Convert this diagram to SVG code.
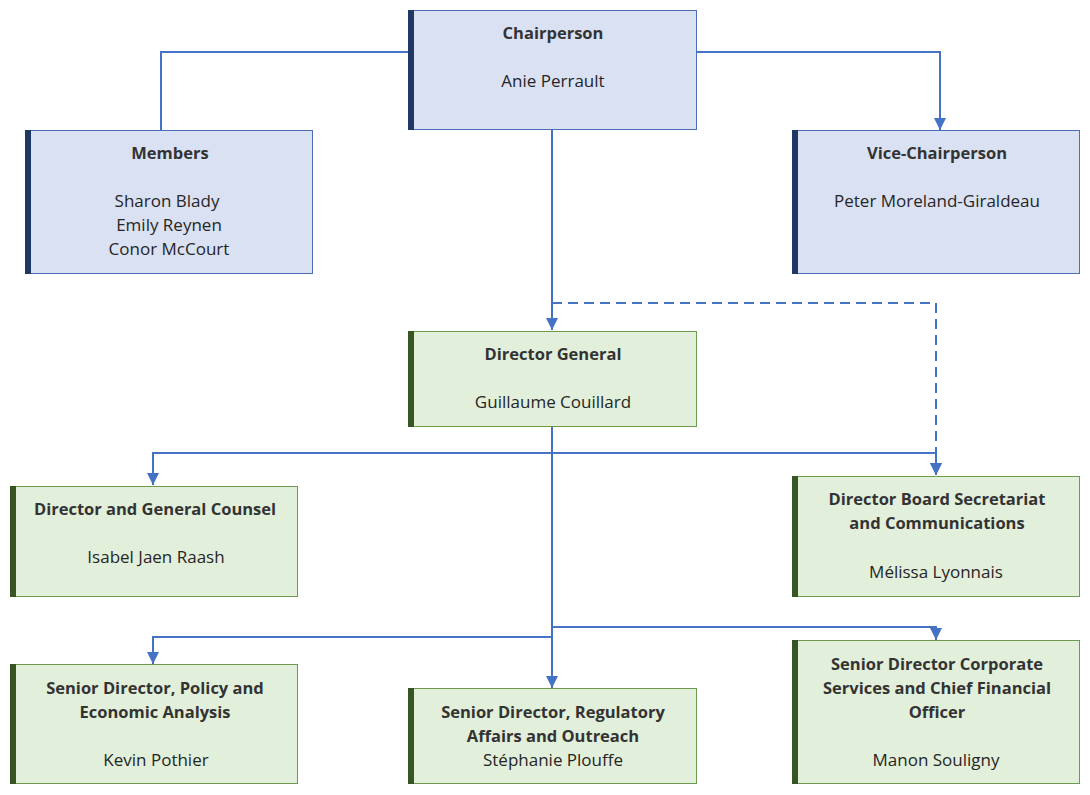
<svg xmlns="http://www.w3.org/2000/svg" width="1090" height="795" viewBox="0 0 1090 795">
<style>
text{font-family:"Open Sans","Liberation Sans",sans-serif;font-size:17px;fill:#262626;text-anchor:middle;dominant-baseline:central}
.t{font-weight:bold;fill:#333;font-size:16.5px}
.b rect.box{fill:#dae1f3;stroke:#4a6fb8;stroke-width:1}
.b rect.bar{fill:#1f3864}
.g rect.box{fill:#e2efda;stroke:#6e9a50;stroke-width:1}
.g rect.bar{fill:#375623}
.c{fill:none;stroke:#4472c4;stroke-width:2}
.d{stroke-dasharray:10 6}
</style>
<defs>
<marker id="ah" viewBox="0 0 12 12" refX="12" refY="6" markerWidth="12" markerHeight="12" markerUnits="userSpaceOnUse" orient="auto">
<path d="M0,0 L12,6 L0,12 Z" fill="#4472c4"/>
</marker>
</defs>
<g id="connectors">
<path class="c" d="M408,52 H161 V130"/>
<path class="c" d="M697,52 H940 V130" marker-end="url(#ah)"/>
<path class="c" d="M552,129 V330" marker-end="url(#ah)"/>
<path class="c d" d="M552,303 H936 V475" marker-end="url(#ah)"/>
<path class="c" d="M552,426 V688" marker-end="url(#ah)"/>
<path class="c" d="M936,453 H153 V485" marker-end="url(#ah)"/>
<path class="c" d="M552,453 H936 V475" marker-end="url(#ah)"/>
<path class="c" d="M552,637 H153 V664" marker-end="url(#ah)"/>
<path class="c" d="M552,627 H936 V640" marker-end="url(#ah)"/>
</g>
<g id="chair" class="b">
<rect class="box" x="408.5" y="10.5" width="288" height="119"/>
<rect class="bar" x="408" y="10" width="6" height="120"/>
<text class="t" x="553" y="32">Chairperson</text>
<text x="553" y="80">Anie Perrault</text>
</g>
<g id="members" class="b">
<rect class="box" x="25.5" y="130.5" width="287" height="143"/>
<rect class="bar" x="25" y="130" width="6" height="144"/>
<text class="t" x="170" y="152">Members</text>
<text x="167" y="200">Sharon Blady</text>
<text x="169" y="224">Emily Reynen</text>
<text x="169" y="248">Conor McCourt</text>
</g>
<g id="vice" class="b">
<rect class="box" x="792.5" y="130.5" width="287" height="143"/>
<rect class="bar" x="792" y="130" width="6" height="144"/>
<text class="t" x="937" y="152">Vice-Chairperson</text>
<text x="937" y="200">Peter Moreland-Giraldeau</text>
</g>
<g id="dg" class="g">
<rect class="box" x="408.5" y="331.5" width="288" height="95"/>
<rect class="bar" x="408" y="331" width="6" height="96"/>
<text class="t" x="553" y="353">Director General</text>
<text x="553" y="401">Guillaume Couillard</text>
</g>
<g id="counsel" class="g">
<rect class="box" x="10.5" y="486.5" width="287" height="110"/>
<rect class="bar" x="10" y="486" width="6" height="111"/>
<text class="t" x="155" y="508">Director and General Counsel</text>
<text x="156" y="556">Isabel Jaen Raash</text>
</g>
<g id="secretariat" class="g">
<rect class="box" x="792.5" y="476.5" width="287" height="120"/>
<rect class="bar" x="792" y="476" width="6" height="121"/>
<text class="t" x="937" y="498">Director Board Secretariat</text>
<text class="t" x="937" y="522">and Communications</text>
<text x="936" y="571">Mélissa Lyonnais</text>
</g>
<g id="policy" class="g">
<rect class="box" x="10.5" y="664.5" width="287" height="119"/>
<rect class="bar" x="10" y="664" width="6" height="120"/>
<text class="t" x="155" y="687">Senior Director, Policy and</text>
<text class="t" x="155" y="711">Economic Analysis</text>
<text x="156" y="759">Kevin Pothier</text>
</g>
<g id="regulatory" class="g">
<rect class="box" x="408.5" y="688.5" width="288" height="95"/>
<rect class="bar" x="408" y="688" width="6" height="96"/>
<text class="t" x="553" y="711">Senior Director, Regulatory</text>
<text class="t" x="553" y="735">Affairs and Outreach</text>
<text x="553" y="759">Stéphanie Plouffe</text>
</g>
<g id="corporate" class="g">
<rect class="box" x="792.5" y="640.5" width="287" height="143"/>
<rect class="bar" x="792" y="640" width="6" height="144"/>
<text class="t" x="937" y="663">Senior Director Corporate</text>
<text class="t" x="937" y="687">Services and Chief Financial</text>
<text class="t" x="937" y="711">Officer</text>
<text x="936" y="759">Manon Souligny</text>
</g>
</svg>
